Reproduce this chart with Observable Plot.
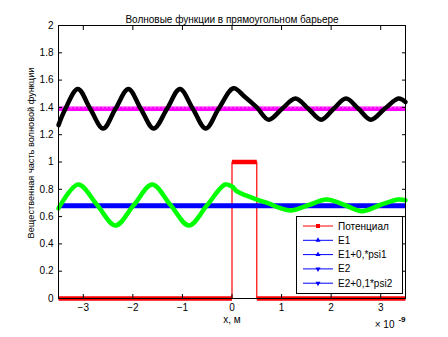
<!DOCTYPE html>
<html><head><meta charset="utf-8">
<script src="https://cdn.jsdelivr.net/npm/d3@7"></script>
<script src="https://cdn.jsdelivr.net/npm/@observablehq/plot@0.6"></script>
<style>
body{margin:0;background:#fff}
#wrap{position:relative;width:448px;height:337px}
svg{font-family:"Liberation Sans",Arial,sans-serif}
#legend{position:absolute;left:0;top:0}
</style>
</head><body><div id="wrap"></div>
<script>
const title = "Волновые функции в прямоугольном барьере";
const yLabel = "Вещественная часть волновой функции";
const xLabel = "x, м";
const xExpBase = "× 10";
const xExp = "-9";
const xTicks = [-3, -2, -1, 0, 1, 2, 3];
const yTicks = [0, 0.2, 0.4, 0.6, 0.8, 1, 1.2, 1.4, 1.6, 1.8, 2];
const xDomain = [-3.5, 3.5];
const yDomain = [0, 2];

// Potential
const potX = [-3.5, 0, 0, 0.5, 0.5, 3.5];
const potV = [0, 0, 1, 1, 0, 0];

// Energy levels
const E1 = 1.39;
const E2 = 0.68;

// E1 + psi1 (black)
const psi1X = [-3.5, -3.36, -3.11, -2.86, -2.60, -2.35, -2.09, -1.84, -1.58, -1.31, -1.05, -0.79, -0.53, -0.27, 0.03, 0.25, 0.5, 0.74, 1.01, 1.28, 1.54, 1.80, 2.05, 2.30, 2.55, 2.80, 3.08, 3.36, 3.5];
const psi1Y = [1.27, 1.39, 1.535, 1.39, 1.245, 1.39, 1.535, 1.39, 1.245, 1.39, 1.535, 1.39, 1.245, 1.39, 1.54, 1.48, 1.40, 1.31, 1.39, 1.465, 1.39, 1.31, 1.39, 1.465, 1.39, 1.31, 1.39, 1.465, 1.44];

// E2 + 0.1*psi2 (green)
const psi2X = [-3.5, -3.47, -3.10, -2.72, -2.35, -1.98, -1.61, -1.24, -0.87, -0.50, -0.14, 0.0, 0.1, 0.28, 0.5, 0.75, 0.95, 1.2, 1.55, 1.91, 2.27, 2.62, 2.99, 3.36, 3.5];
const psi2Y = [0.66, 0.68, 0.835, 0.685, 0.535, 0.685, 0.835, 0.685, 0.535, 0.685, 0.835, 0.82, 0.785, 0.755, 0.725, 0.695, 0.665, 0.645, 0.685, 0.725, 0.685, 0.64, 0.685, 0.725, 0.72];

const legendLabels = ["Потенциал", "E1", "E1+0,*psi1", "E2", "E2+0,1*psi2"];
const legendColors = ["#ff0000", "#0000ff", "#0000ff", "#0000ff", "#0000ff"];
const legendMarkers = ["square", "triangle", "triangle", "triangle-down", "triangle-down"];

const pot = potX.map((x, i) => ({x, v: potV[i]}));
const potSegs = [];
for (let i = 0; i < pot.length - 1; i++) if (pot[i].v === pot[i + 1].v) potSegs.push({x1: pot[i].x, x2: pot[i + 1].x, v: pot[i].v});
const c1 = psi1X.map((x, i) => ({x, y: psi1Y[i]}));
const c2 = psi2X.map((x, i) => ({x, y: psi2Y[i]}));

const fs = 10;
const chart = Plot.plot({
  width: 448, height: 337,
  marginLeft: 58, marginRight: 43, marginTop: 25, marginBottom: 39,
  style: {fontFamily: '"Liberation Sans", Arial, sans-serif', fontSize: fs + "px", background: "#fff", color: "#000"},
  x: {domain: xDomain},
  y: {domain: yDomain},
  marks: [
    // potential
    Plot.line(pot, {x: "x", y: "v", stroke: "#ff0000", strokeWidth: 1.2}),
    Plot.link(potSegs, {x1: "x1", x2: "x2", y1: "v", y2: "v", stroke: "#ff0000", strokeWidth: 4.5}),
    // E1 and E1+psi1
    Plot.ruleY([E1], {stroke: "#ff00ff", strokeWidth: 4.5}),
    Plot.ruleY([E1], {stroke: "#ff66ff", strokeWidth: 1, strokeDasharray: "2,2", dy: -1}),
    Plot.line(c1, {x: "x", y: "y", stroke: "#000", strokeWidth: 4.5, curve: "catmull-rom"}),
    // E2 and E2+psi2
    Plot.ruleY([E2], {stroke: "#0000ff", strokeWidth: 5}),
    Plot.line(c2, {x: "x", y: "y", stroke: "#00ff00", strokeWidth: 4.5, curve: "catmull-rom"}),
    // frame and ticks
    Plot.frame({stroke: "#000", strokeWidth: 1}),
    Plot.axisX(xTicks, {anchor: "bottom", tickSize: -4, tickFormat: () => "", label: null}),
    Plot.axisX(xTicks, {anchor: "top", tickSize: -4, tickFormat: () => "", label: null}),
    Plot.axisY(yTicks, {anchor: "left", tickSize: -4, tickFormat: () => "", label: null}),
    Plot.axisY(yTicks, {anchor: "right", tickSize: -4, tickFormat: () => "", label: null}),
    Plot.axisX(xTicks, {anchor: "bottom", tickSize: 0, tickPadding: 5, label: null, fontSize: fs}),
    Plot.axisY(yTicks, {anchor: "left", tickSize: 0, tickPadding: 5, label: null, fontSize: fs, tickFormat: d => String(+d.toFixed(1))}),
    // texts
    Plot.text([title], {frameAnchor: "top", dy: -10, fontSize: fs}),
    Plot.text([xLabel], {frameAnchor: "bottom", dy: 24, fontSize: fs}),
    Plot.text([xExpBase], {frameAnchor: "bottom-right", dx: -11, dy: 29, textAnchor: "end", fontSize: fs}),
    Plot.text([xExp], {frameAnchor: "bottom-right", dx: 0, dy: 23, textAnchor: "end", fontSize: 8, fontWeight: "bold"})
  ]
});
const wrap = document.getElementById("wrap");
wrap.appendChild(chart);

// overlay: y-axis label and legend
const svg = d3.select(wrap).append("svg").attr("id", "legend").attr("width", 448).attr("height", 337);
svg.append("text").attr("transform", "translate(31,153) rotate(-90)")
  .attr("text-anchor", "middle").attr("dy", "0.35em").attr("font-size", 9.2).text(yLabel);

const L = {x: 296, y: 216, w: 106, h: 77};
svg.append("rect").attr("x", L.x + 0.5).attr("y", L.y + 0.5).attr("width", L.w).attr("height", L.h)
  .attr("fill", "#fff").attr("stroke", "#000");
const rowY = i => L.y + 10 + i * 14.3;
legendLabels.forEach((lab, i) => {
  const y = rowY(i), col = legendColors[i];
  svg.append("line").attr("x1", L.x + 7).attr("x2", L.x + 37).attr("y1", y).attr("y2", y).attr("stroke", col).attr("stroke-width", 1);
  const mx = L.x + 22;
  const m = legendMarkers[i];
  if (m === "square") svg.append("rect").attr("x", mx - 2).attr("y", y - 2).attr("width", 4).attr("height", 4).attr("fill", col);
  else if (m === "triangle") svg.append("path").attr("d", `M${mx},${y - 3}L${mx + 2.5},${y + 1.5}L${mx - 2.5},${y + 1.5}Z`).attr("fill", col);
  else svg.append("path").attr("d", `M${mx},${y + 3}L${mx + 2.5},${y - 1.5}L${mx - 2.5},${y - 1.5}Z`).attr("fill", col);
  svg.append("text").attr("x", L.x + 42).attr("y", y).attr("dy", "0.35em").attr("font-size", fs).text(lab);
});
</script>
</body></html>
